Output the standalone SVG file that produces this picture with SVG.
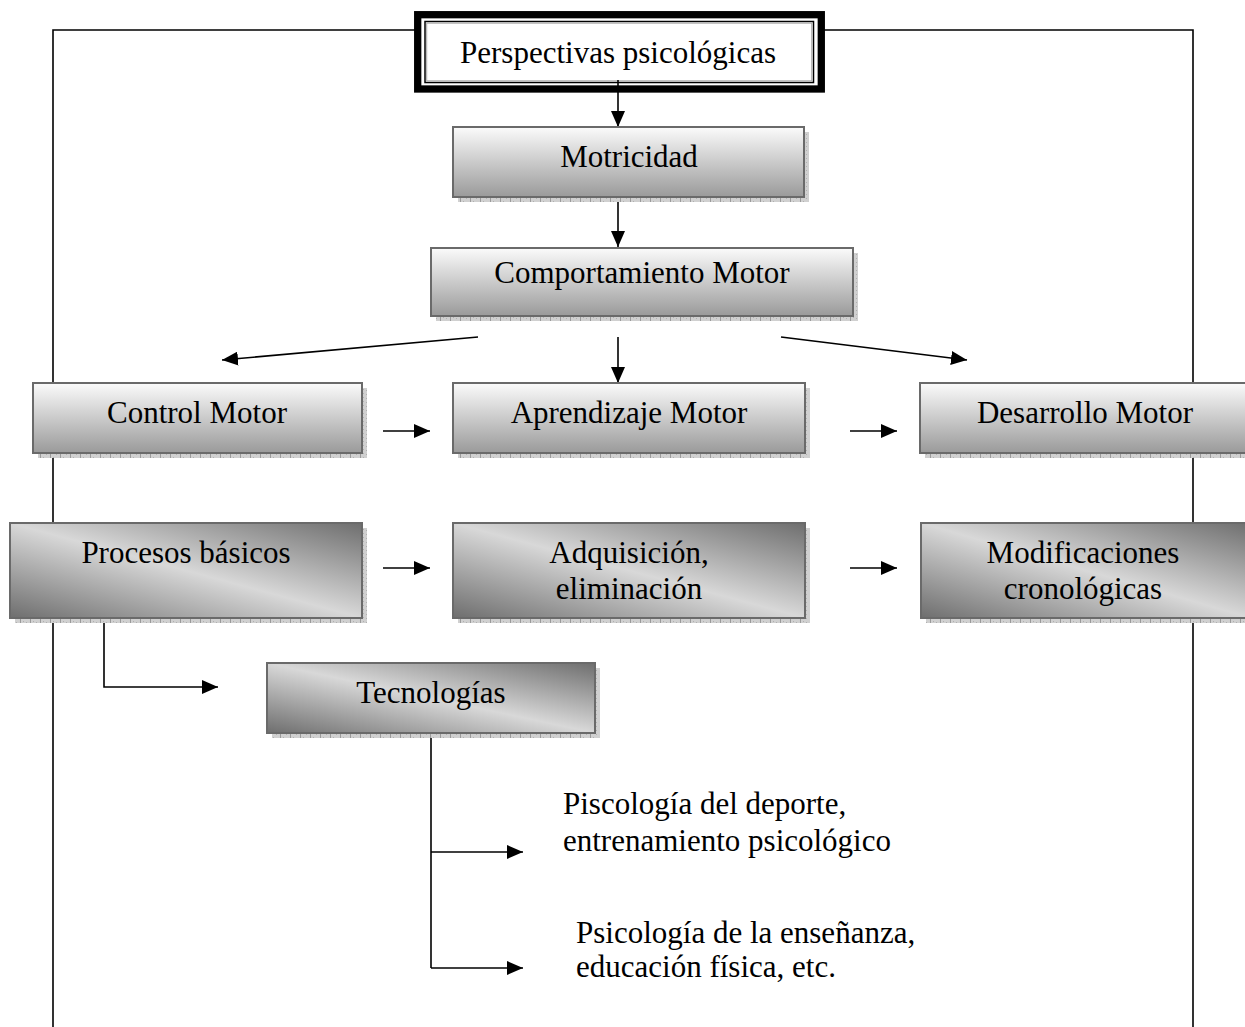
<svg xmlns="http://www.w3.org/2000/svg" width="1245" height="1027" viewBox="0 0 1245 1027">
<style>
text{font-family:"Liberation Serif","Times New Roman",serif;font-size:31px;fill:#000}
.c{text-anchor:middle}
.box{stroke:#6a6a6a;stroke-width:2}
.g1{fill:url(#gv)}
.g2{fill:url(#gd)}
.sh{fill:url(#hatch)}
.ln{stroke:#000;stroke-width:1.6;fill:none}
.ar{marker-end:url(#ah)}
</style>
<defs>
<linearGradient id="gv" x1="0" y1="0" x2="0" y2="1">
<stop offset="0" stop-color="#fbfbfb"/>
<stop offset="1" stop-color="#9a9a9a"/>
</linearGradient>
<linearGradient id="gd" x1="0" y1="1" x2="1" y2="0">
<stop offset="0" stop-color="#6e6e6e"/>
<stop offset="0.5" stop-color="#d8d8d8"/>
<stop offset="1" stop-color="#6e6e6e"/>
</linearGradient>
<pattern id="hatch" width="10" height="4" patternUnits="userSpaceOnUse">
<rect width="10" height="4" fill="#d0d0d0"/>
<rect x="0" y="0" width="1" height="4" fill="#9a9a9a"/>
<rect x="3" y="1" width="1" height="1" fill="#b0b0b0"/>
<rect x="6" y="2" width="1" height="1" fill="#b0b0b0"/>
</pattern>
<marker id="ah" markerUnits="userSpaceOnUse" markerWidth="17" markerHeight="14" refX="16" refY="7" orient="auto">
<path d="M0,0 L16,7 L0,14 z" fill="#000"/>
</marker>
</defs>

<g id="frame">
<path d="M53,1030 V30 H1193 V1030" fill="none" stroke="#000" stroke-width="1.6"/>
</g>

<g id="connectors">
<line class="ln ar" x1="618" y1="80" x2="618" y2="127"/>
<line class="ln ar" x1="618" y1="198" x2="618" y2="247"/>
<line class="ln ar" x1="478" y1="337" x2="222" y2="360"/>
<line class="ln ar" x1="618" y1="337" x2="618" y2="383"/>
<line class="ln ar" x1="781" y1="337" x2="967" y2="360"/>
<line class="ln ar" x1="383" y1="431" x2="430" y2="431"/>
<line class="ln ar" x1="850" y1="431" x2="897" y2="431"/>
<line class="ln ar" x1="383" y1="568" x2="430" y2="568"/>
<line class="ln ar" x1="850" y1="568" x2="897" y2="568"/>
<path class="ln ar" d="M104,620 V687 H218"/>
<path class="ln" d="M431,735 V968"/>
<line class="ln ar" x1="431" y1="852" x2="523" y2="852"/>
<line class="ln ar" x1="431" y1="968" x2="523" y2="968"/>
</g>

<g id="n-perspectivas">
<rect x="417.7" y="14.7" width="403.6" height="74.3" fill="#fff" stroke="#000" stroke-width="7.3"/>
<rect x="425" y="21.5" width="388.5" height="61" fill="none" stroke="#000" stroke-width="1.5"/>
<rect x="426.7" y="23.2" width="385" height="57.6" fill="none" stroke="#aaa" stroke-width="1"/>
<line x1="618" y1="80" x2="618" y2="86" stroke="#000" stroke-width="1.6"/>
<text class="c" x="618" y="63">Perspectivas psicológicas</text>
</g>

<g id="n-motricidad">
<rect class="sh" x="458" y="132" width="351" height="70"/>
<rect class="box g1" x="453" y="127" width="351" height="70"/>
<text class="c" x="629" y="167">Motricidad</text>
</g>

<g id="n-comportamiento">
<rect class="sh" x="436" y="253" width="422" height="68"/>
<rect class="box g1" x="431" y="248" width="422" height="68"/>
<text class="c" x="642" y="283">Comportamiento Motor</text>
</g>

<g id="n-control">
<rect class="sh" x="38" y="388" width="329" height="70"/>
<rect class="box g1" x="33" y="383" width="329" height="70"/>
<text class="c" x="197" y="423">Control Motor</text>
</g>

<g id="n-aprendizaje">
<rect class="sh" x="458" y="388" width="352" height="70"/>
<rect class="box g1" x="453" y="383" width="352" height="70"/>
<text class="c" x="629" y="423">Aprendizaje Motor</text>
</g>

<g id="n-desarrollo">
<rect class="sh" x="925" y="388" width="330" height="70"/>
<rect class="box g1" x="920" y="383" width="330" height="70"/>
<text class="c" x="1085" y="423">Desarrollo Motor</text>
</g>

<g id="n-procesos">
<rect class="sh" x="15" y="528" width="352" height="95"/>
<rect class="box g2" x="10" y="523" width="352" height="95"/>
<text class="c" x="186" y="563">Procesos básicos</text>
</g>

<g id="n-adquisicion">
<rect class="sh" x="458" y="528" width="352" height="95"/>
<rect class="box g2" x="453" y="523" width="352" height="95"/>
<text class="c" x="629" y="563">Adquisición,</text>
<text class="c" x="629" y="599">eliminación</text>
</g>

<g id="n-modificaciones">
<rect class="sh" x="926" y="528" width="330" height="95"/>
<rect class="box g2" x="921" y="523" width="330" height="95"/>
<text class="c" x="1083" y="563">Modificaciones</text>
<text class="c" x="1083" y="599">cronológicas</text>
</g>

<g id="n-tecnologias">
<rect class="sh" x="272" y="668" width="328" height="70"/>
<rect class="box g2" x="267" y="663" width="328" height="70"/>
<text class="c" x="431" y="703">Tecnologías</text>
</g>

<g id="n-deporte">
<text x="563" y="814">Piscología del deporte,</text>
<text x="563" y="851">entrenamiento psicológico</text>
</g>

<g id="n-ensenanza">
<text x="576" y="943">Psicología de la enseñanza,</text>
<text x="576" y="977">educación física, etc.</text>
</g>
</svg>
